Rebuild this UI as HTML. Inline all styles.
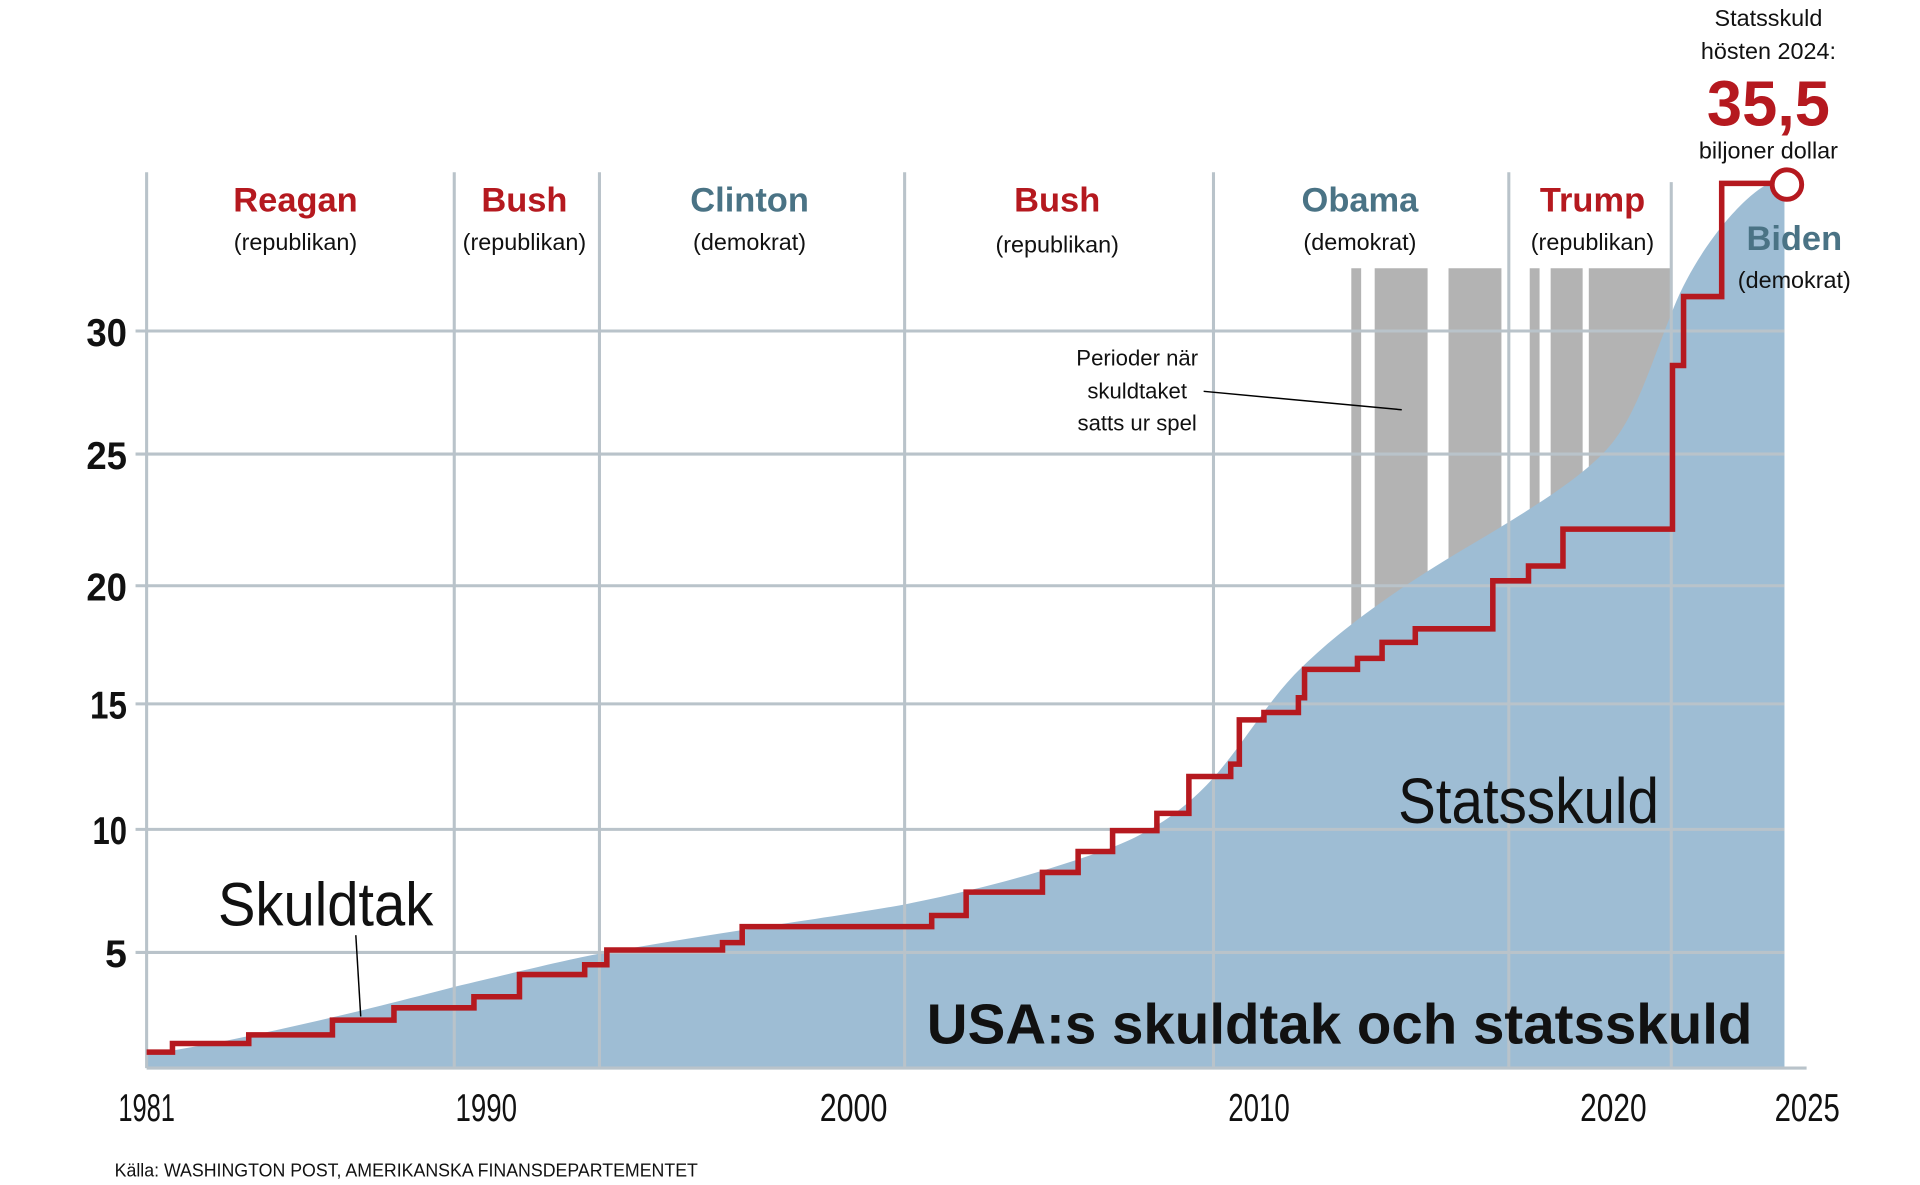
<!DOCTYPE html>
<html><head><meta charset="utf-8"><style>
html,body{margin:0;padding:0;background:#fff;}
svg{display:block;}
text{font-family:"Liberation Sans",sans-serif;}
</style></head><body>
<svg width="1920" height="1185" viewBox="0 0 1560 963" xmlns="http://www.w3.org/2000/svg">
<rect width="1560" height="963" fill="#fff"/>
<!-- gray bars -->
<g fill="#b3b3b3">
<rect x="1098" y="218" width="8" height="650"/>
<rect x="1117" y="218" width="43" height="650"/>
<rect x="1177" y="218" width="43" height="650"/>
<rect x="1243" y="218" width="8" height="650"/>
<rect x="1260" y="218" width="26" height="650"/>
<rect x="1291" y="218" width="68" height="650"/>
</g>
<!-- debt area -->
<path fill="#9ebdd4" d="M119,868 L119,857 C200,845 300,820 369,802 C420,790 460,780 487,775 C600,755 680,745 735,735 C800,722 850,708 900,690 C940,675 965,655 986,632 C1010,605 1030,570 1055,545 C1090,510 1140,475 1200,440 C1250,410 1290,385 1310,360 C1330,335 1340,300 1360,250 C1380,200 1420,155 1440,148 L1450,148 L1450,868 Z"/>
<!-- grid -->
<g stroke="#b9c3ca" stroke-width="2.5" fill="none">
<line x1="110" y1="269" x2="1450" y2="269"/>
<line x1="110" y1="369" x2="1450" y2="369"/>
<line x1="110" y1="476" x2="1450" y2="476"/>
<line x1="110" y1="572" x2="1450" y2="572"/>
<line x1="110" y1="674" x2="1450" y2="674"/>
<line x1="110" y1="774" x2="1450" y2="774"/>
<line x1="119" y1="140" x2="119" y2="868"/>
<line x1="369" y1="140" x2="369" y2="868"/>
<line x1="487" y1="140" x2="487" y2="868"/>
<line x1="735" y1="140" x2="735" y2="868"/>
<line x1="986" y1="140" x2="986" y2="868"/>
<line x1="1226" y1="140" x2="1226" y2="868"/>
<line x1="1358" y1="148" x2="1358" y2="868"/>
<line x1="119" y1="868" x2="1468" y2="868"/>
</g>
<!-- red step line -->
<polyline fill="none" stroke="#b5191f" stroke-width="4.5" stroke-linejoin="miter" points="119,855 140,855 140,848 202,848 202,841 270,841 270,829 320,829 320,819 385,819 385,810 422,810 422,792 475,792 475,784 493,784 493,772 587,772 587,766 603,766 603,753 757,753 757,744 785,744 785,725 847,725 847,709 876,709 876,692 904,692 904,675 940,675 940,661 966,661 966,631 1000,631 1000,621 1007,621 1007,585 1027,585 1027,579 1055,579 1055,567 1060,567 1060,544 1103,544 1103,535 1123,535 1123,522 1150,522 1150,511 1213,511 1213,472 1242,472 1242,460 1270,460 1270,430 1359,430 1359,297 1368,297 1368,241 1399,241 1399,149 1440,149"/>
<circle cx="1452" cy="150" r="12" fill="#fff" stroke="#b5191f" stroke-width="4"/>
<!-- leader lines -->
<line x1="289" y1="760" x2="293" y2="826" stroke="#000" stroke-width="1.2"/>
<line x1="978" y1="318" x2="1139" y2="333" stroke="#000" stroke-width="1.2"/>
<!-- y ticks -->
<g font-weight="bold" font-size="32" text-anchor="end" fill="#111">
<text x="103" y="281" textLength="33" lengthAdjust="spacingAndGlyphs">30</text>
<text x="103" y="381" textLength="33" lengthAdjust="spacingAndGlyphs">25</text>
<text x="103" y="488" textLength="33" lengthAdjust="spacingAndGlyphs">20</text>
<text x="103" y="584" textLength="30" lengthAdjust="spacingAndGlyphs">15</text>
<text x="103" y="686" textLength="28" lengthAdjust="spacingAndGlyphs">10</text>
<text x="103" y="786">5</text>
</g>
<!-- x ticks -->
<g font-size="32" fill="#111">
<text x="96" y="911" textLength="46" lengthAdjust="spacingAndGlyphs">1981</text>
<text x="370" y="911" textLength="50" lengthAdjust="spacingAndGlyphs">1990</text>
<text x="666" y="911" textLength="55" lengthAdjust="spacingAndGlyphs">2000</text>
<text x="998" y="911" textLength="50" lengthAdjust="spacingAndGlyphs">2010</text>
<text x="1284" y="911" textLength="54" lengthAdjust="spacingAndGlyphs">2020</text>
<text x="1442" y="911" textLength="53" lengthAdjust="spacingAndGlyphs">2025</text>
</g>
<!-- presidents -->
<g text-anchor="middle">
<g font-weight="bold" font-size="28">
<text x="240" y="172" fill="#b5191f">Reagan</text>
<text x="426" y="172" fill="#b5191f">Bush</text>
<text x="609" y="172" fill="#4a7385">Clinton</text>
<text x="859" y="172" fill="#b5191f">Bush</text>
<text x="1105" y="172" fill="#4a7385">Obama</text>
<text x="1294" y="172" fill="#b5191f">Trump</text>
<text x="1458" y="203" fill="#4a7385">Biden</text>
</g>
<g font-size="19" fill="#111">
<text x="240" y="203">(republikan)</text>
<text x="426" y="203">(republikan)</text>
<text x="609" y="203">(demokrat)</text>
<text x="859" y="205">(republikan)</text>
<text x="1105" y="203">(demokrat)</text>
<text x="1294" y="203">(republikan)</text>
<text x="1458" y="234">(demokrat)</text>
</g>
<g font-size="18" fill="#111">
<text x="924" y="297">Perioder när</text>
<text x="924" y="324">skuldtaket</text>
<text x="924" y="350">satts ur spel</text>
</g>
<g fill="#111" font-size="19">
<text x="1437" y="21">Statsskuld</text>
<text x="1437" y="48">hösten 2024:</text>
<text x="1437" y="129">biljoner dollar</text>
</g>
<text x="1437" y="102" font-size="52" font-weight="bold" fill="#b5191f" textLength="100" lengthAdjust="spacingAndGlyphs">35,5</text>
</g>
<text x="177" y="752" font-size="50" fill="#111" textLength="175" lengthAdjust="spacingAndGlyphs">Skuldtak</text>
<text x="1136" y="669" font-size="52" fill="#111" textLength="212" lengthAdjust="spacingAndGlyphs">Statsskuld</text>
<text x="753" y="848" font-size="46" font-weight="bold" fill="#111" textLength="671" lengthAdjust="spacingAndGlyphs">USA:s skuldtak och statsskuld</text>
<text x="93" y="956" font-size="15" fill="#111" textLength="474" lengthAdjust="spacingAndGlyphs">Källa: WASHINGTON POST, AMERIKANSKA FINANSDEPARTEMENTET</text>
</svg>
</body></html>
